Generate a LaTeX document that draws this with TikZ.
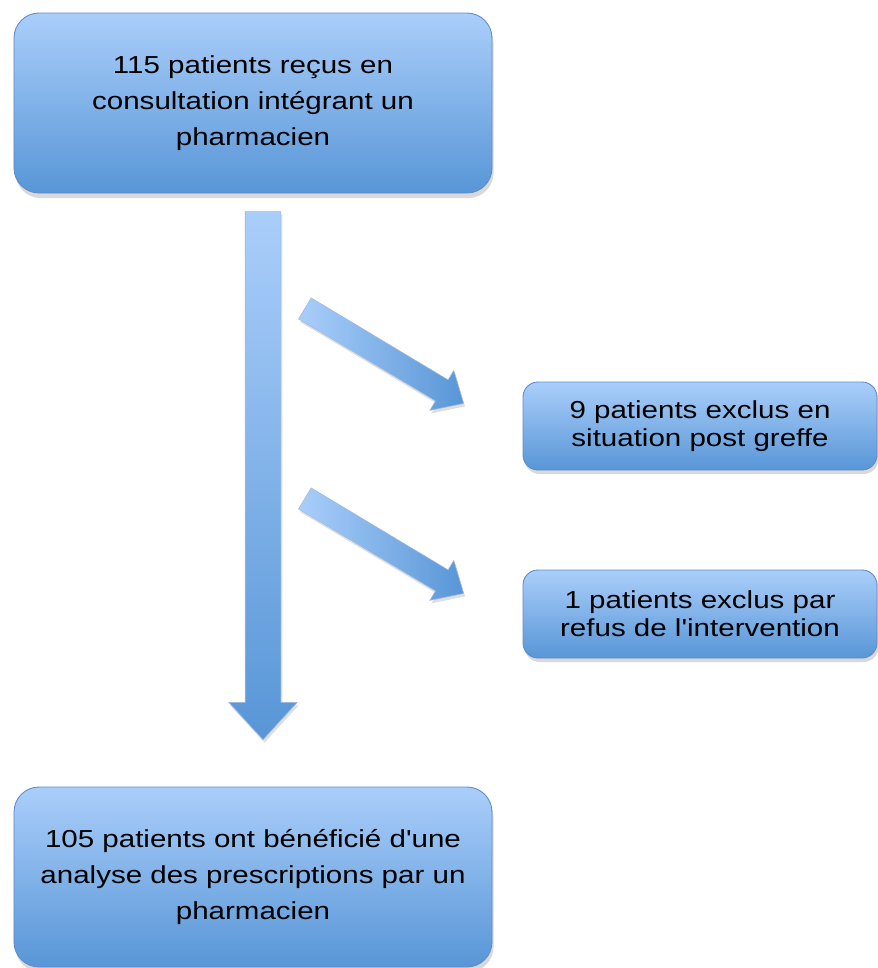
\documentclass[tikz,border=0pt]{standalone}
\usepackage{fontspec}
\setmainfont{Liberation Sans}
\newfontfamily\flowfont[FakeStretch=1.2]{Liberation Sans}
\usetikzlibrary{positioning,shapes.arrows,shadows}

\definecolor{boxtop}{RGB}{170,206,250}
\definecolor{boxbot}{RGB}{88,150,215}
\definecolor{boxedge}{RGB}{95,140,200}

\begin{document}
\begin{tikzpicture}[
    every node/.style={font=\flowfont\fontsize{14}{20.5}\selectfont},
    flowbox/.style={draw=boxedge, line width=0.5pt, rounded corners=0.5cm, align=center,
        top color=boxtop, bottom color=boxbot, minimum width=9.56cm, minimum height=3.6cm,
        drop shadow={shadow xshift=0.03cm, shadow yshift=-0.1cm, opacity=0.3}},
    sidebox/.style={draw=boxedge, line width=0.5pt, rounded corners=0.3cm, align=center,
        top color=boxtop, bottom color=boxbot, minimum width=7.08cm, minimum height=1.76cm,
        font=\flowfont\fontsize{14}{16}\selectfont,
        drop shadow={shadow xshift=0.03cm, shadow yshift=-0.08cm, opacity=0.3}},
    bigarrow/.style={single arrow, draw=boxedge!60, line width=0.3pt,
        inner xsep=0pt, inner ysep=0.35cm,
        single arrow head extend=0.33cm, single arrow tip angle=85,
        top color=boxtop, bottom color=boxbot,
        drop shadow={shadow xshift=0.03cm, shadow yshift=-0.06cm, opacity=0.25}},
    sidearrow/.style={bigarrow, inner ysep=0.24cm, single arrow head extend=0.22cm,
        left color=boxtop, right color=boxbot},
]
\useasboundingbox (0,0) rectangle (17.56,-19.36);

% Column 1: main flow
\node[flowbox] (recus) at (5.06,-2.06) {115 patients reçus en\\consultation intégrant un\\pharmacien};
\node[flowbox] (analyse) at (5.06,-17.54) {105 patients ont bénéficié d'une\\analyse des prescriptions par un\\pharmacien};

% Column 2: exclusions
\node[sidebox] (greffe) at (14.0,-8.52) {9 patients exclus en\\situation post greffe};
\node[sidebox] (refus) at (14.0,-12.28) {1 patients exclus par\\refus de l'intervention};

% Block arrows
\node[bigarrow, minimum height=10.56cm, rotate=-90] (flow) at (5.26,-9.32) {};
\node[sidearrow, minimum height=3.7cm, rotate=-30.9] (versgreffe) at (7.57,-7.05) {};
\node[sidearrow, minimum height=3.7cm, rotate=-30.9] (versrefus) at (7.57,-10.85) {};

\end{tikzpicture}
\end{document}
